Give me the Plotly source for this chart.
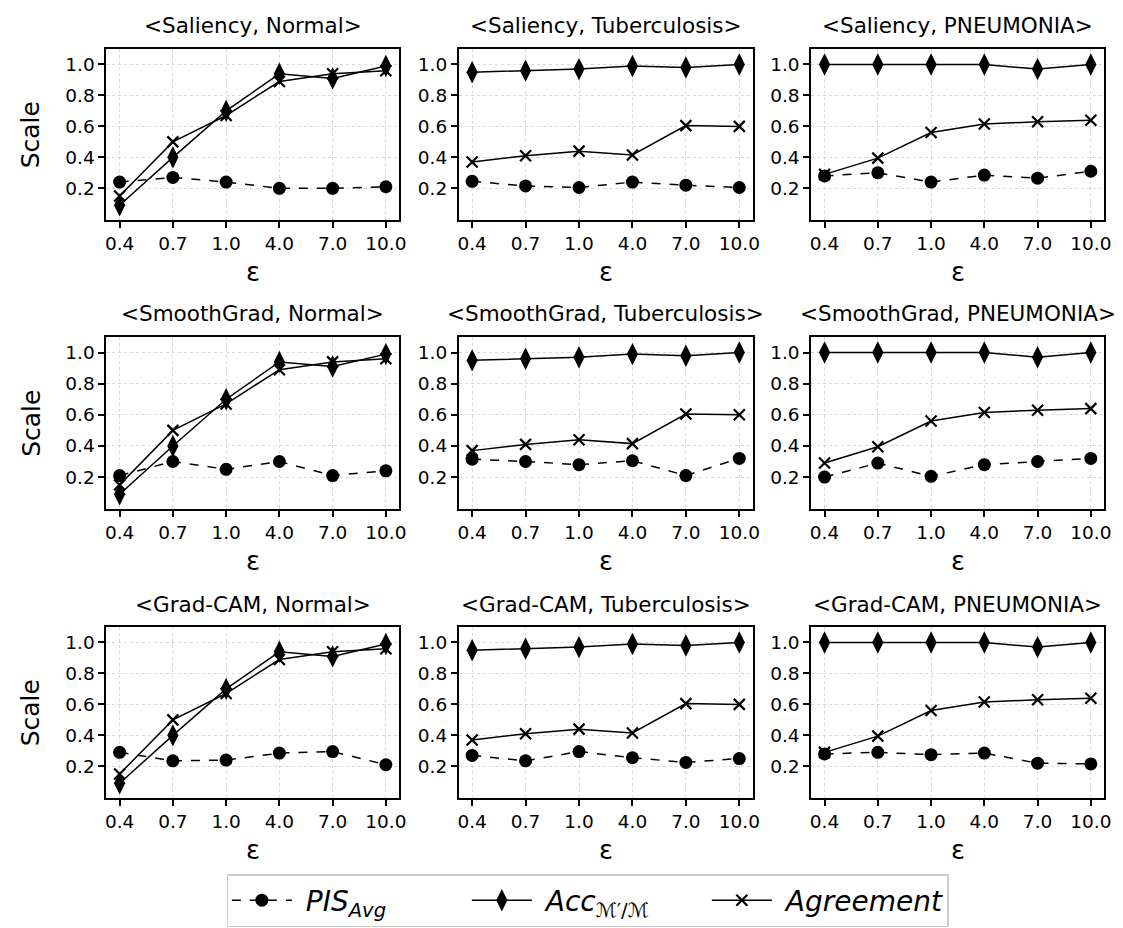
import plotly.graph_objects as go

eps_labels = ["0.4", "0.7", "1.0", "4.0", "7.0", "10.0"]
methods = ["Saliency", "SmoothGrad", "Grad-CAM"]
classes = ["Normal", "Tuberculosis", "PNEUMONIA"]

# Acc and Agreement per class (same for every method)
acc_normal = [0.09, 0.40, 0.70, 0.94, 0.91, 0.99]
acc_tb = [0.95, 0.96, 0.97, 0.99, 0.98, 1.00]
acc_pn = [1.00, 1.00, 1.00, 1.00, 0.97, 1.00]
agr_normal = [0.15, 0.50, 0.67, 0.89, 0.94, 0.96]
agr_tb = [0.37, 0.41, 0.44, 0.415, 0.605, 0.60]
agr_pn = [0.29, 0.395, 0.56, 0.615, 0.63, 0.64]

# PIS_Avg per (method, class)
pis_sal_normal = [0.24, 0.27, 0.24, 0.20, 0.20, 0.21]
pis_sal_tb = [0.245, 0.215, 0.205, 0.24, 0.22, 0.205]
pis_sal_pn = [0.28, 0.30, 0.24, 0.285, 0.265, 0.31]
pis_sg_normal = [0.21, 0.30, 0.25, 0.30, 0.21, 0.24]
pis_sg_tb = [0.315, 0.30, 0.28, 0.305, 0.21, 0.32]
pis_sg_pn = [0.20, 0.29, 0.205, 0.28, 0.30, 0.32]
pis_gc_normal = [0.29, 0.235, 0.24, 0.285, 0.295, 0.21]
pis_gc_tb = [0.27, 0.235, 0.295, 0.255, 0.225, 0.25]
pis_gc_pn = [0.28, 0.29, 0.275, 0.285, 0.22, 0.215]

acc_by_class = [acc_normal, acc_tb, acc_pn]
agr_by_class = [agr_normal, agr_tb, agr_pn]
pis_grid = [
    [pis_sal_normal, pis_sal_tb, pis_sal_pn],
    [pis_sg_normal, pis_sg_tb, pis_sg_pn],
    [pis_gc_normal, pis_gc_tb, pis_gc_pn],
]

W, H = 1123, 928
col_px = [(98, 393), (453, 749), (808, 1103)]
row_px = [(41, 212), (329, 501), (619, 790)]

FONT = "DejaVu Sans"
fig = go.Figure()
layout = dict(
    width=W, height=H,
    margin=dict(l=0, r=0, t=0, b=0),
    paper_bgcolor="white", plot_bgcolor="white",
    font=dict(family=FONT, color="black"),
    showlegend=True,
)
annotations = []

k = 0
for r in range(3):
    for c in range(3):
        k += 1
        xa = "x" if k == 1 else f"x{k}"
        ya = "y" if k == 1 else f"y{k}"
        xkey = "xaxis" if k == 1 else f"xaxis{k}"
        ykey = "yaxis" if k == 1 else f"yaxis{k}"
        x0, x1 = col_px[c]
        y0, y1 = row_px[r]
        layout[xkey] = dict(
            domain=[x0 / W, x1 / W], anchor=ya, type="category",
            categoryorder="array", categoryarray=eps_labels,
            range=[-0.25, 5.25],
            showline=True, mirror=True, linecolor="black", linewidth=1.8,
            ticks="outside", ticklen=6, tickwidth=1.5, tickcolor="black",
            showgrid=True, gridcolor="#d9d9d9", griddash="dot", gridwidth=1,
            tickfont=dict(size=18.5, family=FONT), zeroline=False,
        )
        layout[ykey] = dict(
            domain=[1 - y1 / H, 1 - y0 / H], anchor=xa,
            range=[-0.005, 1.10],
            tickvals=[0.2, 0.4, 0.6, 0.8, 1.0],
            ticktext=["0.2", "0.4", "0.6", "0.8", "1.0"],
            showline=True, mirror=True, linecolor="black", linewidth=1.8,
            ticks="outside", ticklen=6, tickwidth=1.5, tickcolor="black",
            showgrid=True, gridcolor="#d9d9d9", griddash="dot", gridwidth=1,
            tickfont=dict(size=18.5, family=FONT), zeroline=False,
        )
        show = (k == 1)
        fig.add_trace(go.Scatter(
            x=eps_labels, y=pis_grid[r][c], xaxis=xa, yaxis=ya,
            mode="lines+markers", name="&nbsp;<i>PIS</i><sub><i>Avg</i></sub>",
            line=dict(color="black", width=1.5, dash="dash"),
            marker=dict(symbol="circle", size=13, color="black"),
            showlegend=show, legendgroup="pis",
        ))
        fig.add_trace(go.Scatter(
            x=eps_labels, y=acc_by_class[c], xaxis=xa, yaxis=ya,
            mode="lines+markers", name="&nbsp;<i>Acc</i><sub>ℳ′/ℳ</sub>",
            line=dict(color="black", width=1.5),
            marker=dict(symbol="diamond-tall", size=16, color="black"),
            showlegend=show, legendgroup="acc",
        ))
        fig.add_trace(go.Scatter(
            x=eps_labels, y=agr_by_class[c], xaxis=xa, yaxis=ya,
            mode="lines+markers", name="&nbsp;<i>Agreement</i>",
            line=dict(color="black", width=1.5),
            marker=dict(symbol="x-thin", size=11, color="black",
                        line=dict(color="black", width=2.2)),
            showlegend=show, legendgroup="agr",
        ))
        cx = (x0 + x1) / 2 / W
        annotations.append(dict(
            text=f"&lt;{methods[r]}, {classes[c]}&gt;", x=cx, y=1 - (y0 - 23) / H,
            xref="paper", yref="paper", showarrow=False,
            font=dict(size=21.5, family=FONT), xanchor="center", yanchor="middle"))
        annotations.append(dict(
            text="ε", x=cx, y=1 - (y1 + 52) / H,
            xref="paper", yref="paper", showarrow=False,
            font=dict(size=26, family=FONT), xanchor="center", yanchor="middle"))
    annotations.append(dict(
        text="Scale", x=22 / W, y=1 - (row_px[r][0] + row_px[r][1]) / 2 / H,
        xref="paper", yref="paper", showarrow=False, textangle=-90,
        font=dict(size=25, family=FONT), xanchor="center", yanchor="middle"))

layout["annotations"] = annotations
layout["legend"] = dict(
    orientation="h", x=583 / W, xanchor="center", y=1 - 866 / H, yanchor="top",
    bordercolor="#cccccc", borderwidth=1.5, bgcolor="white",
    font=dict(size=28, family=FONT), itemwidth=60,
    entrywidth=165, entrywidthmode="pixels",
    tracegroupgap=0,
)
fig.update_layout(**layout)
fig.write_html("out.html")
